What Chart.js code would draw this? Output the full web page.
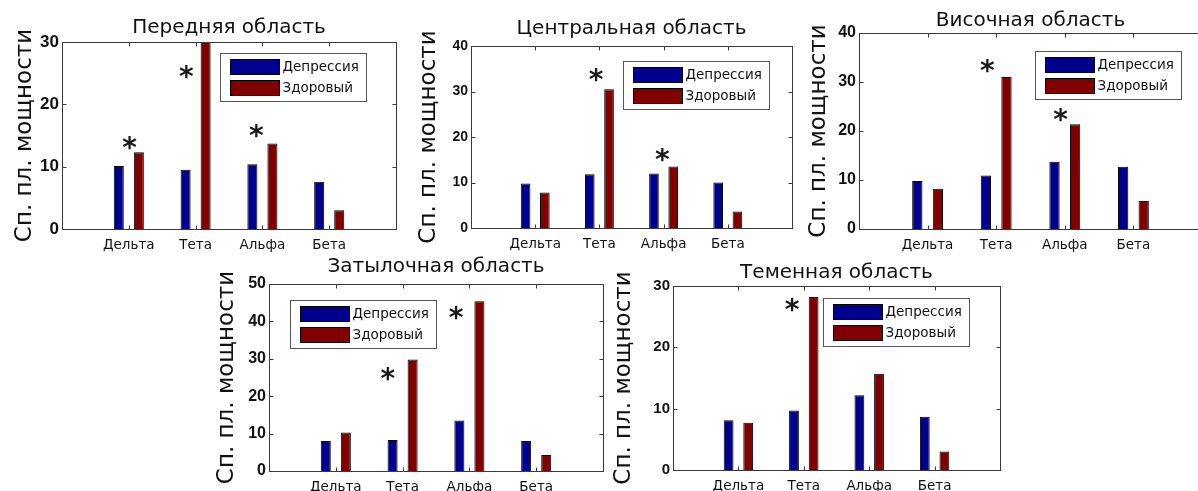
<!DOCTYPE html>
<html>
<head>
<meta charset="utf-8">
<script src="https://cdn.jsdelivr.net/npm/chart.js@4.4.0/dist/chart.umd.min.js"></script>
<style>
  html, body { margin: 0; padding: 0; background: #fff; overflow: hidden; width: 1198px; height: 491px; }
  canvas { position: absolute; }
</style>
</head>
<body>
<script>
// frequency bands and groups
var bands = ['Дельта', 'Тета', 'Альфа', 'Бета'];
var groupNames = ['Депрессия', 'Здоровый'];
var yTitle = 'Сп. пл. мощности';

// values per region (depression / healthy), asterisks in value units
var frontDep = [10.1, 9.5, 10.4, 7.6];
var frontHealthy = [12.3, 30, 13.7, 3.0];
var frontStars = [14.1, 25.4, 16.0, null];

var centralDep = [9.8, 11.8, 12.0, 10.0];
var centralHealthy = [7.8, 30.5, 13.5, 3.6];
var centralStars = [null, 34.1, 16.5, null];

var temporalDep = [9.8, 10.9, 13.7, 12.7];
var temporalHealthy = [8.2, 31.0, 21.4, 5.7];
var temporalStars = [null, 33.7, 23.7, null];

var occipitalDep = [8.0, 8.3, 13.5, 8.0];
var occipitalHealthy = [10.3, 29.8, 45.4, 4.3];
var occipitalStars = [null, 26.3, 42.6, null];

var parietalDep = [8.1, 9.7, 12.2, 8.7];
var parietalHealthy = [7.7, 28.2, 15.7, 3.0];
var parietalStars = [null, 27.2, null, null];

var DEP_COLOR = '#00008f';
var HEALTHY_COLOR = '#800000';
var AXIS_COLOR = '#3a3a3a';
var TEXT_COLOR = '#111';

// plot rectangles are [left, top, right, bottom] of the axes box
var panels = [
  { title: 'Передняя область', dep: frontDep, healthy: frontHealthy, stars: frontStars, yMax: 30,
    plot: [62, 42, 401, 229], titleGap: 2, yTitleGap: 37, tickSize: 17,
    legendAt: [158, 11], starDx: [0.01, -0.14, -0.09, 0] },
  { title: 'Центральная область', dep: centralDep, healthy: centralHealthy, stars: centralStars, yMax: 40,
    plot: [471, 46, 797, 228], titleGap: 5, yTitleGap: 42, tickSize: 14,
    legendAt: [152, 15], starDx: [0, -0.05, -0.02, 0] },
  { title: 'Височная область', dep: temporalDep, healthy: temporalHealthy, stars: temporalStars, yMax: 40,
    plot: [859, 33, 1207, 229], titleGap: 0, yTitleGap: 40, tickSize: 16,
    legendAt: [176, 18], starDx: [0, -0.13, -0.06, 0] },
  { title: 'Затылочная область', dep: occipitalDep, healthy: occipitalHealthy, stars: occipitalStars, yMax: 50,
    plot: [269, 284, 608, 471], titleGap: 5, yTitleGap: 42, tickSize: 16,
    legendAt: [21, 16], starDx: [0, -0.22, -0.2, 0] },
  { title: 'Теменная область', dep: parietalDep, healthy: parietalHealthy, stars: parietalStars, yMax: 30,
    plot: [673, 286, 1005, 470], titleGap: 1, yTitleGap: 49, tickSize: 15,
    legendAt: [150, 12], starDx: [0, -0.18, 0, 0] }
];

var Y_AXIS_W = 66, X_AXIS_H = 30, TITLE_LINE = 24, PAD_RIGHT = 3;

function line(ctx, x1, y1, x2, y2) {
  ctx.beginPath(); ctx.moveTo(x1, y1); ctx.lineTo(x2, y2); ctx.stroke();
}

function extrasPlugin(p) {
  return {
    id: 'extras',
    afterDatasetsDraw: function (chart) {
      var ctx = chart.ctx, a = chart.chartArea, xs = chart.scales.x, ys = chart.scales.y;
      ctx.save();
      ctx.strokeStyle = AXIS_COLOR;
      ctx.lineWidth = 1;
      var l = Math.round(a.left) + 0.5, t = Math.round(a.top) + 0.5;
      var r = Math.round(a.right) + 0.5, b = Math.round(a.bottom) + 0.5;
      ctx.strokeRect(l, t, r - l, b - t);
      ys.ticks.forEach(function (tk) {
        var y = Math.round(ys.getPixelForValue(tk.value)) + 0.5;
        line(ctx, l, y, l + 4, y);
        line(ctx, r, y, r - 4, y);
      });
      bands.forEach(function (bd, i) {
        var x = Math.round(xs.getPixelForValue(i + 1)) + 0.5;
        line(ctx, x, b, x, b - 4);
        line(ctx, x, t, x, t + 4);
      });
      ctx.restore();
    },
    afterDraw: function (chart) {
      var ctx = chart.ctx, a = chart.chartArea, xs = chart.scales.x, ys = chart.scales.y;
      var step = xs.getPixelForValue(2) - xs.getPixelForValue(1);
      ctx.save();

      // significance marks
      ctx.fillStyle = '#1a1a1a';
      ctx.font = 'bold 28px "DejaVu Sans"';
      ctx.textAlign = 'center';
      ctx.textBaseline = 'alphabetic';
      p.stars.forEach(function (v, i) {
        if (v == null) return;
        var x = xs.getPixelForValue(i + 1) + p.starDx[i] * step;
        var y = ys.getPixelForValue(v);
        ctx.fillText('*', x, y + 0.56 * 28);
      });

      // legend box
      var lx = Math.round(a.left + p.legendAt[0]) + 0.5;
      var ly = Math.round(a.top + p.legendAt[1]) + 0.5;
      ctx.fillStyle = '#fff';
      ctx.fillRect(lx, ly, 146, 48);
      ctx.strokeStyle = '#555';
      ctx.lineWidth = 1;
      ctx.strokeRect(lx, ly, 146, 48);
      ctx.font = '13.5px "DejaVu Sans"';
      ctx.textAlign = 'left';
      ctx.textBaseline = 'middle';
      chart.data.datasets.forEach(function (ds, k) {
        var sy = ly + 6 + k * 21;
        ctx.fillStyle = ds.backgroundColor;
        ctx.fillRect(lx + 10, sy, 49, 15);
        ctx.strokeStyle = '#000';
        ctx.strokeRect(lx + 10, sy, 49, 15);
        ctx.fillStyle = TEXT_COLOR;
        ctx.fillText(ds.label, lx + 62, sy + 8);
      });

      // y axis title
      ctx.translate(a.left - p.yTitleGap + 5.75, (a.top + a.bottom) / 2);
      ctx.rotate(-Math.PI / 2);
      ctx.fillStyle = TEXT_COLOR;
      ctx.font = '23px "DejaVu Sans"';
      ctx.textAlign = 'center';
      ctx.textBaseline = 'alphabetic';
      ctx.fillText(yTitle, 0, 0);
      ctx.restore();
    }
  };
}

Chart.defaults.font.family = '"DejaVu Sans"';
Chart.defaults.color = TEXT_COLOR;

panels.forEach(function (p) {
  var left = p.plot[0] - Y_AXIS_W;
  var top = p.plot[1] - TITLE_LINE - p.titleGap;
  var width = p.plot[2] + PAD_RIGHT - left;
  var height = p.plot[3] + X_AXIS_H - top;

  var canvas = document.createElement('canvas');
  canvas.width = width;
  canvas.height = height;
  canvas.style.left = left + 'px';
  canvas.style.top = top + 'px';
  document.body.appendChild(canvas);

  new Chart(canvas.getContext('2d'), {
    type: 'bar',
    data: {
      labels: [''].concat(bands, ['']),
      datasets: [{
        label: groupNames[0],
        data: [null].concat(p.dep, [null]),
        backgroundColor: DEP_COLOR,
        borderColor: '#000',
        borderWidth: 1
      }, {
        label: groupNames[1],
        data: [null].concat(p.healthy, [null]),
        backgroundColor: HEALTHY_COLOR,
        borderColor: '#000',
        borderWidth: 1
      }]
    },
    options: {
      responsive: false,
      animation: false,
      events: [],
      categoryPercentage: 0.6,
      barPercentage: 0.5,
      layout: { padding: { left: 0, right: PAD_RIGHT, top: 0, bottom: 0 } },
      scales: {
        x: {
          type: 'category',
          offset: false,
          grid: { display: false, drawTicks: false },
          border: { display: false },
          ticks: { autoSkip: false, maxRotation: 0, padding: 8, color: TEXT_COLOR,
                   font: { family: '"DejaVu Sans"', size: 13.5 } },
          afterFit: function (s) { s.height = X_AXIS_H; }
        },
        y: {
          min: 0,
          max: p.yMax,
          grid: { display: false, drawTicks: false },
          border: { display: false },
          ticks: { stepSize: 10, padding: 3, color: TEXT_COLOR,
                   font: { family: '"Liberation Sans"', weight: 'bold', size: p.tickSize } },
          afterFit: function (s) { s.width = Y_AXIS_W; }
        }
      },
      plugins: {
        legend: { display: false },
        tooltip: { enabled: false },
        title: {
          display: true,
          text: p.title,
          fullSize: false,
          color: TEXT_COLOR,
          padding: { top: 0, bottom: p.titleGap },
          font: { family: '"DejaVu Sans"', size: 20, weight: 'normal' }
        }
      }
    },
    plugins: [extrasPlugin(p)]
  });
});
</script>
</body>
</html>
